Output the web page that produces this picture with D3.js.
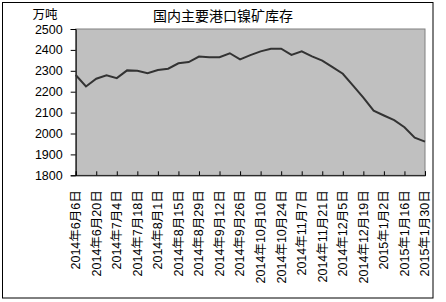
<!DOCTYPE html>
<html><head><meta charset="utf-8">
<script src="https://cdn.jsdelivr.net/npm/d3@7"></script>
<style>
body{margin:0;background:#fff;}
text{font-family:"Liberation Sans","Noto Sans CJK SC",sans-serif;fill:#000;}
</style></head>
<body><svg id="c" width="446" height="302"></svg>
<script>
const title = "国内主要港口镍矿库存";
const unit = "万吨";
const tickLabels = ["2014年6月6日","2014年6月20日","2014年7月4日","2014年7月18日","2014年8月1日","2014年8月15日","2014年8月29日","2014年9月12日","2014年9月26日","2014年10月10日","2014年10月24日","2014年11月7日","2014年11月21日","2014年12月5日","2014年12月19日","2015年1月2日","2015年1月16日","2015年1月30日"];
const values = [2280,2225,2262,2278,2265,2302,2300,2288,2304,2310,2336,2342,2368,2365,2365,2384,2355,2375,2393,2405,2406,2376,2393,2369,2349,2318,2286,2229,2172,2109,2086,2064,2030,1980,1961];
const yTicks = [1800,1900,2000,2100,2200,2300,2400,2500];

const svg = d3.select("#c");
const L = 75.7, R = 425, T = 29, B = 175.3;
svg.append("rect").attr("x",2.5).attr("y",2.5).attr("width",430.5).attr("height",295.5)
  .attr("fill","#fff").attr("stroke","#000").attr("stroke-width",1);

const x = d3.scaleLinear().domain([0, values.length-1]).range([L, R]);
const y = d3.scaleLinear().domain([1800,2500]).range([B, T]);

svg.append("rect").attr("x",L).attr("y",T).attr("width",R-L).attr("height",B-T)
  .attr("fill","#C0C0C0").attr("stroke","#808080").attr("stroke-width",1);

// y axis
const ya = svg.append("g").attr("transform",`translate(${L},0)`)
  .call(d3.axisLeft(y).tickValues(yTicks).tickSize(5).tickPadding(8).tickFormat(d3.format("d")));
ya.select(".domain").attr("stroke","#000");
ya.selectAll(".tick line").attr("stroke","#000");
ya.selectAll("text").attr("font-size","12.5px").attr("fill","#000");

// x axis
const xa = svg.append("g").attr("transform",`translate(0,${B})`)
  .call(d3.axisBottom(x).tickValues(tickLabels.map((d,i)=>i*2)).tickSize(-4).tickFormat(""));
xa.select(".domain").attr("stroke","#000");
xa.selectAll(".tick line").attr("stroke","#000");

svg.append("g").selectAll("text").data(tickLabels).join("text")
  .attr("transform",(d,i)=>`translate(${x(i*2)},${B+15}) rotate(-90)`)
  .attr("text-anchor","end").attr("dy","0.35em")
  .attr("font-size","12.5px").text(d=>d);

// line
svg.append("path").datum(values)
  .attr("fill","none").attr("stroke","#333").attr("stroke-width",2)
  .attr("d", d3.line().x((d,i)=>x(i)).y(d=>y(d)));

svg.append("text").attr("x",223).attr("y",21).attr("text-anchor","middle")
  .attr("font-size","14px").text(title);
svg.append("text").attr("x",45).attr("y",19).attr("text-anchor","middle")
  .attr("font-size","12.5px").text(unit);
</script></body></html>
